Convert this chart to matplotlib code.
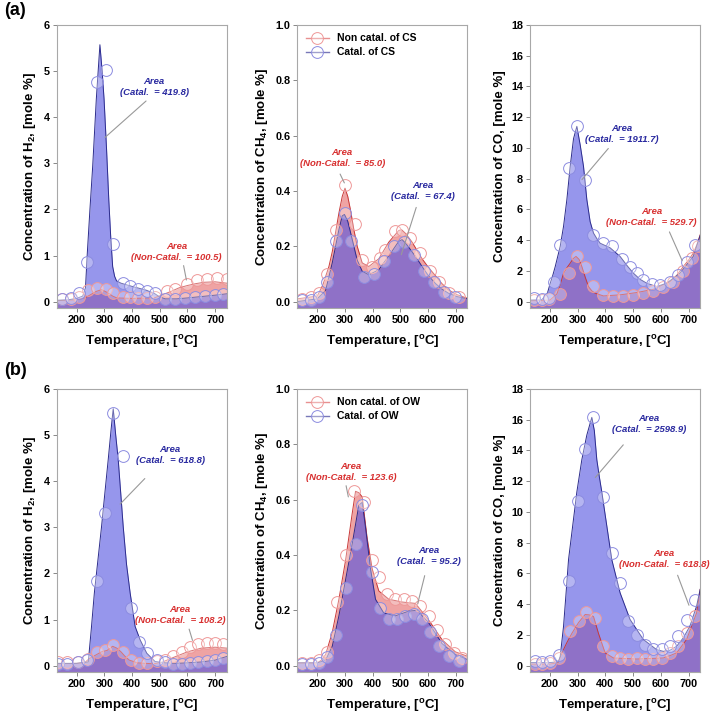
import matplotlib
matplotlib.use('Agg')
import matplotlib.pyplot as plt
from matplotlib.lines import Line2D

plt.rcParams['font.family'] = ['Liberation Sans', 'DejaVu Sans']
plt.rcParams['font.weight'] = 'bold'
plt.rcParams['axes.labelweight'] = 'bold'
plt.rcParams['mathtext.default'] = 'regular'

# ---- (a) CS : H2 ----
t_h2a_cat = [128, 170, 200, 222, 232, 238, 248, 258, 271, 284, 292, 299, 308, 316, 323, 330, 337, 344, 360, 400, 450, 480, 500, 520, 560, 600, 650, 700, 742]
h2a_cat = [0.03, 0.04, 0.07, 0.12, 0.3, 1.0, 2.0, 2.94, 4.39, 5.57, 5.0, 4.39, 3.3, 2.21, 1.4, 0.76, 0.55, 0.45, 0.4, 0.33, 0.25, 0.18, 0.1, 0.06, 0.06, 0.08, 0.11, 0.14, 0.17]
t_h2a_non = [128, 200, 230, 250, 270, 290, 310, 330, 345, 400, 480, 510, 540, 570, 600, 630, 660, 700, 742]
h2a_non = [0.02, 0.04, 0.08, 0.15, 0.22, 0.26, 0.2, 0.12, 0.08, 0.07, 0.08, 0.15, 0.22, 0.3, 0.35, 0.39, 0.42, 0.43, 0.4]
mt_h2a_cat = [146, 178, 210, 238, 272, 306, 332, 366, 393, 423, 453, 483, 519, 555, 591, 627, 663, 699, 729]
m_h2a_cat = [0.06, 0.08, 0.18, 0.87, 4.77, 5.03, 1.25, 0.41, 0.33, 0.28, 0.24, 0.18, 0.05, 0.05, 0.07, 0.09, 0.12, 0.15, 0.17]
mt_h2a_non = [146, 178, 210, 242, 272, 306, 332, 366, 393, 423, 453, 483, 525, 555, 597, 633, 669, 705, 741]
m_h2a_non = [0.05, 0.05, 0.1, 0.25, 0.29, 0.28, 0.18, 0.11, 0.09, 0.08, 0.08, 0.1, 0.22, 0.28, 0.38, 0.46, 0.5, 0.52, 0.49]

# ---- (a) CS : CH4 ----
t_ch4a_cat = [128, 200, 230, 242, 254, 266, 278, 290, 298, 310, 320, 332, 344, 362, 386, 422, 458, 494, 506, 520, 542, 560, 578, 600, 626, 650, 674, 705, 742]
ch4a_cat = [0.0, 0.01, 0.04, 0.09, 0.14, 0.2, 0.26, 0.31, 0.315, 0.29, 0.25, 0.2, 0.15, 0.11, 0.097, 0.115, 0.165, 0.218, 0.224, 0.21, 0.18, 0.155, 0.127, 0.095, 0.066, 0.045, 0.03, 0.018, 0.01]
t_ch4a_non = [128, 200, 220, 242, 254, 266, 278, 290, 300, 310, 320, 332, 344, 362, 386, 422, 458, 494, 504, 520, 542, 560, 578, 600, 626, 650, 674, 705, 742]
ch4a_non = [0.01, 0.02, 0.06, 0.127, 0.18, 0.25, 0.32, 0.38, 0.41, 0.38, 0.33, 0.26, 0.2, 0.14, 0.127, 0.155, 0.215, 0.257, 0.26, 0.245, 0.215, 0.185, 0.155, 0.125, 0.094, 0.065, 0.042, 0.025, 0.012]
mt_ch4a_cat = [146, 176, 206, 236, 266, 299, 320, 368, 404, 440, 476, 512, 548, 584, 620, 656, 698]
m_ch4a_cat = [0.005, 0.005, 0.015, 0.07, 0.22, 0.32, 0.22, 0.09, 0.1, 0.148, 0.2, 0.215, 0.17, 0.11, 0.07, 0.035, 0.018]
mt_ch4a_non = [146, 176, 206, 236, 266, 299, 335, 362, 398, 428, 446, 482, 506, 536, 572, 608, 638, 674, 710]
m_ch4a_non = [0.01, 0.015, 0.03, 0.1, 0.26, 0.42, 0.28, 0.15, 0.126, 0.157, 0.188, 0.255, 0.26, 0.23, 0.175, 0.11, 0.07, 0.03, 0.015]

# ---- (a) CS : CO ----
t_coa_cat = [128, 170, 190, 201, 210, 219, 237, 249, 261, 273, 285, 297, 309, 321, 333, 345, 357, 369, 381, 417, 453, 480, 501, 525, 549, 585, 621, 669, 717, 742]
coa_cat = [0.1, 0.12, 0.5, 1.2, 1.7, 2.28, 3.6, 4.9, 6.64, 8.8, 10.6, 11.4, 10.2, 8.8, 6.64, 5.2, 4.46, 4.1, 3.8, 3.5, 2.94, 2.3, 1.85, 1.45, 1.2, 0.98, 1.2, 1.85, 2.94, 4.3]
t_coa_non = [128, 200, 225, 237, 249, 261, 273, 284, 294, 305, 315, 327, 339, 351, 363, 393, 453, 513, 573, 633, 657, 681, 700, 717, 730, 742]
coa_non = [0.05, 0.1, 0.5, 1.1, 1.85, 2.2, 2.5, 2.8, 2.94, 2.75, 2.28, 1.6, 0.98, 0.7, 0.55, 0.37, 0.44, 0.59, 0.8, 1.3, 1.7, 2.28, 2.7, 3.15, 3.7, 4.35]
mt_coa_cat = [141, 171, 195, 213, 237, 267, 297, 327, 357, 393, 423, 459, 489, 513, 537, 567, 597, 633, 663, 693, 723]
m_coa_cat = [0.22, 0.17, 0.26, 1.3, 3.7, 8.7, 11.45, 7.94, 4.35, 3.8, 3.6, 2.8, 2.28, 1.85, 1.4, 1.15, 1.1, 1.3, 1.74, 2.6, 3.7]
mt_coa_non = [141, 171, 195, 237, 267, 297, 327, 357, 393, 429, 465, 501, 537, 573, 609, 645, 681, 711, 735]
m_coa_non = [0.1, 0.1, 0.15, 0.5, 1.85, 3.0, 2.28, 1.0, 0.44, 0.37, 0.37, 0.44, 0.54, 0.7, 0.94, 1.3, 1.96, 2.83, 3.6]

# ---- (b) OW : H2 ----
t_h2b_cat = [128, 200, 242, 253, 264, 277, 290, 302, 314, 324, 332, 341, 350, 359, 368, 380, 393, 411, 429, 453, 483, 520, 560, 600, 650, 700, 742]
h2b_cat = [0.05, 0.05, 0.08, 0.8, 1.58, 2.3, 3.02, 3.75, 4.47, 5.1, 5.57, 5.0, 4.47, 3.75, 3.02, 2.2, 1.58, 0.85, 0.56, 0.27, 0.09, 0.06, 0.05, 0.06, 0.08, 0.12, 0.2]
t_h2b_non = [128, 200, 230, 245, 260, 290, 310, 330, 345, 360, 375, 390, 420, 480, 510, 550, 600, 650, 700, 742]
h2b_non = [0.04, 0.05, 0.07, 0.15, 0.2, 0.3, 0.33, 0.42, 0.38, 0.3, 0.2, 0.12, 0.06, 0.04, 0.08, 0.18, 0.3, 0.38, 0.4, 0.38]
mt_h2b_cat = [134, 164, 206, 236, 272, 302, 332, 366, 395, 426, 453, 489, 519, 549, 579, 609, 639, 669, 699, 729]
m_h2b_cat = [0.04, 0.04, 0.07, 0.13, 1.83, 3.31, 5.48, 4.54, 1.25, 0.51, 0.27, 0.13, 0.07, 0.04, 0.04, 0.05, 0.07, 0.1, 0.13, 0.17]
mt_h2b_non = [134, 164, 206, 240, 272, 302, 332, 366, 395, 426, 453, 489, 519, 549, 579, 609, 639, 669, 699, 729]
m_h2b_non = [0.08, 0.08, 0.07, 0.15, 0.3, 0.33, 0.45, 0.3, 0.12, 0.06, 0.05, 0.1, 0.13, 0.22, 0.3, 0.4, 0.47, 0.5, 0.49, 0.48]

# ---- (b) OW : CH4 ----
t_ch4b_cat = [128, 200, 230, 254, 278, 302, 326, 350, 362, 374, 392, 410, 440, 482, 530, 560, 602, 650, 698, 742]
ch4b_cat = [0.01, 0.01, 0.02, 0.07, 0.18, 0.31, 0.44, 0.58, 0.59, 0.5, 0.35, 0.24, 0.19, 0.18, 0.197, 0.2, 0.155, 0.08, 0.04, 0.022]
t_ch4b_non = [128, 200, 215, 230, 254, 278, 302, 326, 338, 350, 362, 380, 398, 422, 458, 506, 554, 602, 650, 698, 742]
ch4b_non = [0.01, 0.01, 0.02, 0.04, 0.12, 0.24, 0.38, 0.55, 0.63, 0.625, 0.61, 0.46, 0.35, 0.27, 0.24, 0.23, 0.225, 0.165, 0.094, 0.05, 0.034]
mt_ch4b_cat = [146, 176, 206, 236, 266, 302, 338, 362, 398, 428, 458, 488, 518, 548, 578, 608, 638, 674, 710]
m_ch4b_cat = [0.005, 0.005, 0.01, 0.03, 0.11, 0.28, 0.44, 0.58, 0.34, 0.21, 0.17, 0.17, 0.18, 0.185, 0.167, 0.12, 0.07, 0.034, 0.016]
mt_ch4b_non = [146, 176, 206, 236, 272, 302, 332, 368, 398, 422, 452, 482, 512, 542, 572, 602, 632, 662, 692, 722]
m_ch4b_non = [0.01, 0.01, 0.02, 0.05, 0.23, 0.4, 0.63, 0.59, 0.38, 0.32, 0.26, 0.24, 0.24, 0.233, 0.215, 0.18, 0.13, 0.08, 0.046, 0.028]

# ---- (b) OW : CO ----
t_cob_cat = [128, 200, 230, 237, 249, 258, 267, 282, 297, 315, 333, 351, 360, 369, 378, 387, 405, 423, 453, 489, 537, 585, 609, 633, 657, 681, 705, 729, 742]
cob_cat = [0.2, 0.2, 0.25, 0.6, 2.57, 4.7, 6.9, 9.1, 11.3, 13.4, 15.0, 16.15, 15.3, 13.4, 12.3, 11.3, 9.1, 6.9, 4.74, 3.0, 1.7, 1.04, 0.93, 1.0, 1.26, 1.8, 2.57, 3.87, 4.96]
t_cob_non = [128, 200, 230, 243, 261, 279, 303, 327, 342, 357, 375, 399, 429, 513, 609, 633, 657, 693, 729, 742]
cob_non = [0.1, 0.1, 0.2, 0.83, 1.5, 2.1, 2.8, 3.33, 3.3, 3.2, 2.1, 0.83, 0.5, 0.43, 0.5, 0.65, 0.83, 1.7, 3.43, 4.96]
mt_cob_cat = [147, 171, 201, 231, 270, 300, 327, 357, 393, 423, 453, 483, 513, 543, 573, 603, 633, 663, 693, 723]
m_cob_cat = [0.28, 0.25, 0.28, 0.7, 5.5, 10.7, 14.1, 16.15, 11.0, 7.35, 5.4, 2.9, 2.0, 1.37, 1.09, 1.09, 1.26, 1.9, 3.0, 4.3]
mt_cob_non = [147, 171, 201, 231, 273, 303, 330, 363, 393, 423, 453, 483, 513, 543, 573, 603, 633, 663, 693, 723]
m_cob_non = [0.1, 0.1, 0.15, 0.5, 2.24, 2.9, 3.48, 3.1, 1.26, 0.6, 0.5, 0.43, 0.5, 0.43, 0.43, 0.5, 0.83, 1.26, 2.13, 3.2]

ylabels = ['Concentration of H$_2$, [mole %]', 'Concentration of CH$_4$, [mole %]',
           'Concentration of CO, [mole %]']
ytops = [6, 1.0, 18]
ysteps = [1, 0.2, 2]
xticks = [200, 300, 400, 500, 600, 700]

BLUE_FILL = '#5050e0'
RED_FILL = '#e04848'
BLUE_LINE = '#2c2c8c'
RED_LINE = '#c83838'
BLUE_MK = '#8c8ce0'
RED_MK = '#ee9898'
BLUE_TXT = '#2a2aa0'
RED_TXT = '#d83030'

fig = plt.figure(figsize=(7.12, 7.24), dpi=100)
lefts = [0.0796, 0.4176, 0.7444]
bottoms = [0.5746, 0.0718]
W, H = 0.239, 0.391

panels = [
    [(t_h2a_cat, h2a_cat, t_h2a_non, h2a_non, mt_h2a_cat, m_h2a_cat, mt_h2a_non, m_h2a_non),
     (t_ch4a_cat, ch4a_cat, t_ch4a_non, ch4a_non, mt_ch4a_cat, m_ch4a_cat, mt_ch4a_non, m_ch4a_non),
     (t_coa_cat, coa_cat, t_coa_non, coa_non, mt_coa_cat, m_coa_cat, mt_coa_non, m_coa_non)],
    [(t_h2b_cat, h2b_cat, t_h2b_non, h2b_non, mt_h2b_cat, m_h2b_cat, mt_h2b_non, m_h2b_non),
     (t_ch4b_cat, ch4b_cat, t_ch4b_non, ch4b_non, mt_ch4b_cat, m_ch4b_cat, mt_ch4b_non, m_ch4b_non),
     (t_cob_cat, cob_cat, t_cob_non, cob_non, mt_cob_cat, m_cob_cat, mt_cob_non, m_cob_non)],
]

# annotation text: (label, colour, text centre, leader start, leader end)
notes = [
    [[('Area\n(Catal.  = 419.8)', BLUE_TXT, (480, 4.65), (458, 4.39), (295, 3.52)),
      ('Area\n(Non-Catal.  = 100.5)', RED_TXT, (560, 1.08), (584, 0.84), (598, 0.41))],
     [('Area\n(Non-Catal.  = 85.0)', RED_TXT, (290, 0.52), (278, 0.47), (302, 0.42)),
      ('Area\n(Catal.  = 67.4)', BLUE_TXT, (582, 0.40), (560, 0.35), (500, 0.16))],
     [('Area\n(Catal.  = 1911.7)', BLUE_TXT, (459, 10.9), (417, 10.1), (309, 7.8)),
      ('Area\n(Non-Catal.  = 529.7)', RED_TXT, (567, 5.5), (627, 4.7), (681, 2.5))]],
    [[('Area\n(Catal.  = 618.8)', BLUE_TXT, (537, 4.56), (453, 4.1), (350, 3.46)),
      ('Area\n(Non-Catal.  = 108.2)', RED_TXT, (573, 1.09), (603, 0.85), (621, 0.49))],
     [('Area\n(Non-Catal.  = 123.6)', RED_TXT, (322, 0.70), (302, 0.66), (314, 0.60)),
      ('Area\n(Catal.  = 95.2)', BLUE_TXT, (604, 0.395), (590, 0.335), (560, 0.215))],
     [('Area\n(Catal.  = 2598.9)', BLUE_TXT, (557, 15.7), (471, 14.5), (357, 12.1)),
      ('Area\n(Non-Catal.  = 618.8)', RED_TXT, (611, 6.95), (657, 6.05), (705, 3.76))]],
]
legend_names = [('Non catal. of CS', 'Catal. of CS'), ('Non catal. of OW', 'Catal. of OW')]

for r in range(2):
    for c in range(3):
        ax = fig.add_axes([lefts[c], bottoms[r], W, H])
        tc, yc, tn, yn, mtc, myc, mtn, myn = panels[r][c]
        ybot = -0.023 * ytops[c]
        ax.fill_between(tn, yn, ybot, color=RED_FILL, alpha=0.5, lw=0)
        ax.fill_between(tc, yc, ybot, color=BLUE_FILL, alpha=0.6, lw=0)
        ax.plot(tn, yn, color=RED_LINE, lw=0.7)
        ax.plot(tc, yc, color=BLUE_LINE, lw=0.7)
        ax.plot(mtn, myn, 'o', ls='none', ms=8.5, mec=RED_MK, mfc=(1, 1, 1, 0.3), mew=0.7)
        ax.plot(mtc, myc, 'o', ls='none', ms=8.5, mec=BLUE_MK, mfc=(1, 1, 1, 0.3), mew=0.7)
        ax.set_xlim(128, 742)
        ax.set_ylim(ybot, ytops[c])
        ax.set_xticks(xticks)
        n = int(round(ytops[c] / ysteps[c]))
        yt = [i * ysteps[c] for i in range(n + 1)]
        ax.set_yticks(yt)
        if c == 1:
            ax.set_yticklabels(['%.1f' % v for v in yt])
        ax.tick_params(labelsize=7.8, length=3, width=0.7, color='#888888', pad=2)
        for s in ax.spines.values():
            s.set_color('#a8a8a8')
            s.set_linewidth(0.8)
        ax.set_xlabel('Temperature, [$^o$C]', fontsize=9.5, labelpad=6)
        ax.set_ylabel(ylabels[c], fontsize=9.5, labelpad=4)
        for txt, col, pos, p0, p1 in notes[r][c]:
            ax.text(pos[0], pos[1], txt, color=col, fontsize=6.8, style='italic',
                    ha='center', va='center', linespacing=1.3)
            ax.annotate('', xy=p1, xytext=p0,
                        arrowprops=dict(arrowstyle='-', color='#999999', lw=0.8))
        if c == 1:
            hs = [Line2D([0], [0], color='#e89090', marker='o', ms=8.5, mec=RED_MK,
                         mfc=(1, 1, 1, 0.3), mew=0.7, lw=1),
                  Line2D([0], [0], color='#7878b8', marker='o', ms=8.5, mec=BLUE_MK,
                         mfc=(1, 1, 1, 0.3), mew=0.7, lw=1)]
            ax.legend(hs, legend_names[r], loc='upper left', frameon=False,
                      prop={'size': 7.5, 'weight': 'bold'}, handlelength=2.2,
                      borderaxespad=0.4, labelspacing=0.4, bbox_to_anchor=(0.0, 1.0))

fig.text(0.006, 0.997, '(a)', fontsize=13, fontweight='bold', va='top')
fig.text(0.006, 0.5, '(b)', fontsize=13, fontweight='bold', va='top')

fig.savefig('out.png', dpi=100)
